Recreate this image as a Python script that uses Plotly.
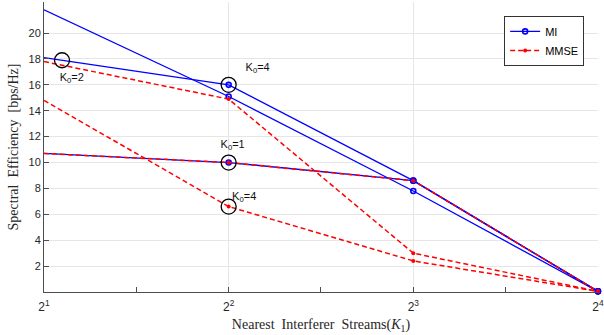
import plotly.graph_objects as go

# ---- data ----
K1 = [2, 4, 8, 16]
mi_curves = [
    [21.8, 15.1, 7.8, 0.05],
    [18.1, 16.0, 8.6, 0.05],
    [10.7, 10.0, 8.6, 0.05],
]
mmse_curves = [
    [17.8, 14.9, 3.0, 0.05],
    [14.8, 6.6, 2.4, 0.05],
    [10.7, 10.0, 8.6, 0.05],
]
ytick_vals = [2, 4, 6, 8, 10, 12, 14, 16, 18, 20]
xtick_vals = [2, 4, 8, 16]
xtick_text = ["2<sup>1</sup>", "2<sup>2</sup>", "2<sup>3</sup>", "2<sup>4</sup>"]
xminor_vals = [2 * 2 ** 0.5, 4 * 2 ** 0.5, 8 * 2 ** 0.5]

circle_x = [2.14, 4, 4, 4]
circle_y = [17.9, 16.0, 10.0, 6.6]
label_x = [2.22, 4.46, 4.06, 4.24]
label_y = [16.5, 17.3, 11.35, 7.35]
label_text = ["K<sub>0</sub>=2", "K<sub>0</sub>=4", "K<sub>0</sub>=1", "K<sub>0</sub>=4"]

BLUE = "#0000FF"
RED = "#FF0000"

fig = go.Figure()
for i, ys in enumerate(mi_curves):
    fig.add_trace(go.Scatter(
        x=K1, y=ys, mode="lines+markers", name="MI",
        legendgroup="MI", showlegend=(i == 0),
        line=dict(color=BLUE, width=1.3),
        marker=dict(symbol="circle-open", size=5, color=BLUE, line=dict(width=1.6)),
        cliponaxis=False,
    ))
for i, ys in enumerate(mmse_curves):
    fig.add_trace(go.Scatter(
        x=K1, y=ys, mode="lines+markers", name="MMSE",
        legendgroup="MMSE", showlegend=(i == 0),
        line=dict(color=RED, width=1.5, dash="5px,3px"),
        marker=dict(symbol="circle", size=4, color=RED),
        cliponaxis=False,
    ))

# circled annotations
fig.add_trace(go.Scatter(
    x=circle_x, y=circle_y, mode="markers", showlegend=False, hoverinfo="skip",
    marker=dict(symbol="circle-open", size=15, color="black", line=dict(width=1.3)),
    cliponaxis=False,
))
fig.add_trace(go.Scatter(
    x=label_x, y=label_y, mode="text", text=label_text, showlegend=False,
    hoverinfo="skip", textfont=dict(family="Liberation Sans, Arial", size=11, color="#111"),
    cliponaxis=False,
))

fig.update_layout(
    width=604, height=335,
    margin=dict(l=44, r=6, t=2, b=43),
    paper_bgcolor="white", plot_bgcolor="white",
    font=dict(family="Liberation Sans, Arial", size=11, color="#262626"),
    legend=dict(
        x=0.975, y=0.952, xanchor="right", yanchor="top",
        bgcolor="white", bordercolor="#333333", borderwidth=1,
        font=dict(size=11, color="#000"),
        tracegroupgap=0, itemwidth=30,
    ),
)
fig.update_xaxes(
    type="log", range=[0.30103, 1.2042], automargin=False,
    tickmode="array", tickvals=xtick_vals, ticktext=xtick_text,
    ticks="inside", ticklen=5, tickcolor="#4d4d4d",
    showgrid=True, gridcolor="#e6e6e6", gridwidth=1,
    showline=True, linecolor="#4d4d4d", linewidth=1,
    zeroline=False, ticklabelstandoff=4,
    minor=dict(tickmode="array", tickvals=xminor_vals, ticks="inside",
               ticklen=5, tickcolor="#4d4d4d", showgrid=False),
    tickfont=dict(size=12, color="#262626"),
    title=dict(text="Nearest&nbsp; Interferer&nbsp; Streams(<i>K</i><sub>1</sub>)",
               font=dict(family="Liberation Serif, DejaVu Serif, serif", size=14, color="#262626"),
               standoff=5),
)
fig.update_yaxes(
    range=[0, 22.4], automargin=False,
    tickmode="array", tickvals=ytick_vals,
    ticks="inside", ticklen=5, tickcolor="#4d4d4d",
    showgrid=True, gridcolor="#e6e6e6", gridwidth=1,
    showline=True, linecolor="#4d4d4d", linewidth=1,
    zeroline=False,
    tickfont=dict(size=11, color="#262626"),
    title=dict(text="Spectral&nbsp; Efficiency&nbsp; [bps/Hz]",
               font=dict(family="Liberation Serif, DejaVu Serif, serif", size=14, color="#262626"),
               standoff=6),
)

fig.write_html("out.html", config={"displayModeBar": False},
               post_script="document.body.style.margin='0';")
